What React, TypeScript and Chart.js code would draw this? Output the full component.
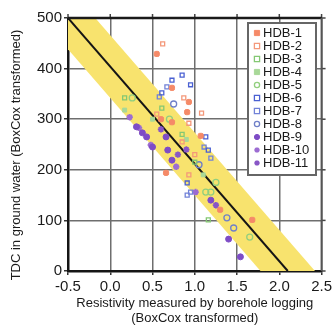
import React, { useEffect, useRef } from "react";
import Chart from "chart.js/auto";

const FONT = "'Liberation Sans', Arial, Helvetica, sans-serif";

const xTicks = [-0.5, 0, 0.5, 1, 1.5, 2, 2.5];
const yTicks = [0, 100, 200, 300, 400, 500];
const xTitle = ["Resistivity measured by borehole logging", "(BoxCox transformed)"];
const yTitle = "TDC in ground water (BoxCox transformed)";

const seriesNames = ["HDB-1", "HDB-2", "HDB-3", "HDB-4", "HDB-5", "HDB-6", "HDB-7", "HDB-8", "HDB-9", "HDB-10", "HDB-11"];

const hdb1 = [[0.55, 429], [0.73, 362], [0.93, 334], [0.91, 314], [0.73, 294], [1.07, 267], [0.66, 194], [1.3, 121], [1.68, 101], [0.6, 300]];
const hdb2 = [[0.62, 449], [0.87, 342], [1.08, 312], [0.93, 292], [0.93, 190], [0.85, 255], [1.0, 230], [0.55, 310]];
const hdb3 = [[0.17, 342], [0.61, 322], [1.16, 101], [1.0, 215], [0.85, 270]];
const hdb4 = [[0.17, 318], [0.5, 300], [1.1, 190], [0.9, 260]];
const hdb5 = [[0.26, 342], [1.13, 156], [1.19, 156], [1.65, 67], [0.7, 300], [1.25, 175]];
const hdb6 = [[0.73, 377], [0.85, 387], [0.95, 368], [0.61, 352], [0.91, 174], [1.13, 265], [1.16, 239]];
const hdb7 = [[0.67, 364], [0.58, 344], [0.91, 150], [0.95, 156], [1.19, 223], [1.11, 245]];
const hdb8 = [[1.38, 105], [1.46, 85], [0.75, 330], [1.05, 210]];
const hdb9 = [[0.31, 285], [0.38, 273], [0.43, 265], [0.5, 245], [0.66, 265], [0.68, 239], [0.73, 219], [1.19, 140], [1.4, 63], [1.54, 28]];
const hdb10 = [[0.23, 304], [0.34, 283], [0.48, 249], [0.78, 206], [1.01, 156]];
const hdb11 = [[0.6, 280], [0.9, 240], [1.25, 130], [0.8, 230]];

const seriesData = [hdb1, hdb2, hdb3, hdb4, hdb5, hdb6, hdb7, hdb8, hdb9, hdb10, hdb11];

const fitLine = [[-0.5, 500], [2.1, 0]];
const bandUpper = [[-0.5, 562], [2.5, -15]];
const bandLower = [[-0.5, 438], [2.5, -139]];

type Sty = { shape: string; color: string; filled: boolean; r: number; bw: number };
const styles: Sty[] = [
  { shape: "rectRounded", color: "#f58a68", filled: true, r: 3, bw: 1 },
  { shape: "rect", color: "#f4987a", filled: false, r: 2.8, bw: 1.3 },
  { shape: "rect", color: "#84c873", filled: false, r: 2.8, bw: 1.3 },
  { shape: "rect", color: "#a8d898", filled: true, r: 2.8, bw: 1 },
  { shape: "circle", color: "#92cf7e", filled: false, r: 3, bw: 1.3 },
  { shape: "rect", color: "#4a60d2", filled: false, r: 2.8, bw: 1.3 },
  { shape: "rect", color: "#7282d8", filled: false, r: 2.8, bw: 1.3 },
  { shape: "circle", color: "#7080c8", filled: false, r: 3, bw: 1.3 },
  { shape: "circle", color: "#7e4cc6", filled: true, r: 3, bw: 1 },
  { shape: "star", color: "#9c6cd2", filled: true, r: 3.2, bw: 1.8 },
  { shape: "star", color: "#8856c6", filled: true, r: 3.2, bw: 1.8 },
];

const toXY = (arr: number[][]) => arr.map(([x, y]) => ({ x, y }));

function drawMarker(ctx: CanvasRenderingContext2D, s: Sty, x: number, y: number) {
  ctx.save();
  ctx.strokeStyle = s.color;
  ctx.fillStyle = s.color;
  ctx.lineWidth = s.bw;
  const r = s.r;
  ctx.beginPath();
  if (s.shape === "circle") {
    ctx.arc(x, y, r, 0, Math.PI * 2);
  } else if (s.shape === "rect" || s.shape === "rectRounded") {
    ctx.rect(x - r, y - r, 2 * r, 2 * r);
  } else if (s.shape === "star") {
    for (let i = 0; i < 4; i++) {
      const a = (i * Math.PI) / 4;
      ctx.moveTo(x - Math.cos(a) * r, y - Math.sin(a) * r);
      ctx.lineTo(x + Math.cos(a) * r, y + Math.sin(a) * r);
    }
    ctx.stroke();
    ctx.restore();
    return;
  }
  if (s.filled) ctx.fill();
  ctx.stroke();
  ctx.restore();
}

const framePlugin = {
  id: "frameAndExtras",
  afterDatasetsDraw(chart: any) {
    const ctx: CanvasRenderingContext2D = chart.ctx;
    const { left, right, top, bottom } = chart.chartArea;
    const xs = chart.scales.x;
    const ys = chart.scales.y;
    ctx.save();
    ctx.strokeStyle = "#444";
    ctx.lineWidth = 1.5;
    xTicks.forEach((v) => {
      const px = xs.getPixelForValue(v);
      ctx.beginPath();
      ctx.moveTo(px, top);
      ctx.lineTo(px, top - 4);
      ctx.stroke();
    });
    yTicks.forEach((v) => {
      const py = ys.getPixelForValue(v);
      ctx.beginPath();
      ctx.moveTo(right, py);
      ctx.lineTo(right + 4, py);
      ctx.stroke();
    });
    ctx.strokeStyle = "#1a1a1a";
    ctx.lineWidth = 2.5;
    ctx.beginPath();
    ctx.moveTo(left, top);
    ctx.lineTo(right, top);
    ctx.stroke();
    ctx.strokeStyle = "#555";
    ctx.lineWidth = 2;
    ctx.beginPath();
    ctx.moveTo(right, top);
    ctx.lineTo(right, bottom);
    ctx.stroke();

    const bx = 248, by = 23, bw = 68, bh = 152;
    ctx.fillStyle = "#ffffff";
    ctx.fillRect(bx, by, bw, bh);
    ctx.strokeStyle = "#666";
    ctx.lineWidth = 2;
    ctx.strokeRect(bx, by, bw, bh);
    ctx.font = `13px ${FONT}`;
    ctx.textBaseline = "middle";
    ctx.textAlign = "left";
    seriesNames.forEach((name, i) => {
      const yy = 33 + 13 * i;
      drawMarker(ctx, { ...styles[i], r: 2.6 }, 257, yy);
      ctx.fillStyle = "#1a1a1a";
      ctx.fillText(name, 263, yy + 0.5);
    });

    ctx.translate(16, 155);
    ctx.rotate(-Math.PI / 2);
    ctx.textAlign = "center";
    ctx.textBaseline = "middle";
    ctx.fillStyle = "#1a1a1a";
    ctx.font = `13px ${FONT}`;
    ctx.fillText(yTitle, 0, 0);
    ctx.restore();
  },
};

export default function App() {
  const ref = useRef<HTMLCanvasElement>(null);
  useEffect(() => {
    if (!ref.current) return;
    const pointSets = seriesData.map((d, i) => {
      const s = styles[i];
      return {
        type: "scatter",
        label: seriesNames[i],
        data: toXY(d),
        pointStyle: s.shape,
        pointRadius: s.r,
        pointBorderWidth: s.bw,
        borderColor: s.color,
        backgroundColor: s.filled ? s.color : "rgba(255,255,255,0)",
        order: 0,
      };
    });
    const chart = new Chart(ref.current, {
      type: "scatter",
      data: {
        datasets: [
          {
            type: "line",
            label: "band-upper",
            data: toXY(bandUpper),
            borderWidth: 0,
            borderColor: "rgba(0,0,0,0)",
            pointRadius: 0,
            backgroundColor: "#f8e36e",
            fill: "+1",
            order: 10,
          },
          {
            type: "line",
            label: "band-lower",
            data: toXY(bandLower),
            borderWidth: 0,
            borderColor: "rgba(0,0,0,0)",
            pointRadius: 0,
            fill: false,
            order: 10,
          },
          {
            type: "line",
            label: "fit",
            data: toXY(fitLine),
            borderWidth: 2,
            borderColor: "#151515",
            pointRadius: 0,
            fill: false,
            order: 5,
          },
          ...pointSets,
        ] as any,
      },
      options: {
        animation: false,
        responsive: false,
        events: [],
        layout: { padding: { top: 18, right: 11, left: 0, bottom: 0 } },
        plugins: { legend: { display: false }, tooltip: { enabled: false } },
        scales: {
          x: {
            type: "linear",
            min: -0.5,
            max: 2.5,
            afterBuildTicks: (s: any) => {
              s.ticks = xTicks.map((v) => ({ value: v }));
            },
            afterFit: (s: any) => {
              s.height = 57;
            },
            ticks: {
              callback: (v: any) => Number(v).toFixed(1),
              font: { family: FONT, size: 15 },
              color: "#1a1a1a",
              padding: 3,
              maxRotation: 0,
              autoSkip: false,
            },
            grid: { color: "#6e6e6e", lineWidth: 1.5, tickLength: 4, tickColor: "#333" },
            border: { color: "#151515", width: 2.5 },
            title: {
              display: true,
              text: xTitle,
              font: { family: FONT, size: 13, lineHeight: 1.15 },
              color: "#1a1a1a",
              padding: { top: 0, bottom: 2 },
            },
          },
          y: {
            type: "linear",
            min: 0,
            max: 500,
            afterBuildTicks: (s: any) => {
              s.ticks = yTicks.map((v) => ({ value: v }));
            },
            afterFit: (s: any) => {
              s.width = 68;
            },
            ticks: {
              font: { family: FONT, size: 15 },
              color: "#1a1a1a",
              padding: 2,
            },
            grid: { color: "#6e6e6e", lineWidth: 1.5, tickLength: 4, tickColor: "#333" },
            border: { color: "#151515", width: 2.5 },
          },
        },
      } as any,
      plugins: [framePlugin],
    });
    return () => chart.destroy();
  }, []);
  return (
    <div style={{ position: "fixed", left: 0, top: 0, width: 335, height: 328, background: "#fff" }}>
      <canvas ref={ref} width={335} height={328} style={{ display: "block" }} />
    </div>
  );
}
